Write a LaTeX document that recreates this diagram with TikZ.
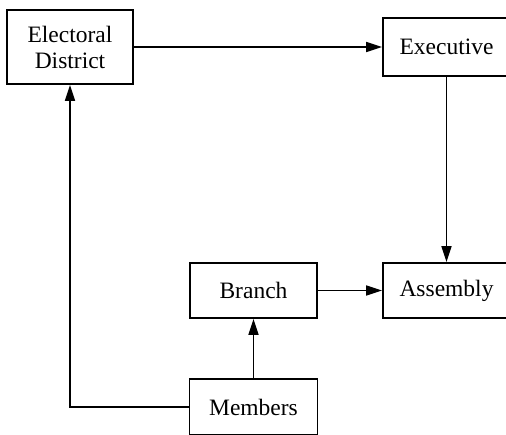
\documentclass[tikz,border=0pt]{standalone}
\usepackage{fontspec}
\setmainfont{Liberation Serif}
\usetikzlibrary{arrows.meta}
\begin{document}
\begin{tikzpicture}[x=1pt,y=1pt,
  box/.style={draw=black,line width=1.8pt,inner sep=0pt,align=center,
    font=\fontsize{23.5}{26}\selectfont,fill=white},
  arr/.style={line width=1.6pt,-{Triangle[length=16pt,width=10pt]}}]
\useasboundingbox (0,0) rectangle (506,434);
\clip (0,0) rectangle (506,434);
\node[box,minimum width=126pt,minimum height=74pt] (ed) at (70,387) {Electoral\\District};
\node[box,minimum width=127pt,minimum height=58pt] (ex) at (446.5,387) {Executive};
\node[box,minimum width=127pt,minimum height=55pt] (br) at (253.5,143.5) {Branch};
\node[box,minimum width=127pt,minimum height=55pt] (as) at (446.5,143.5) {Assembly};
\node[box,minimum width=128pt,minimum height=56pt] (me) at (253.5,27) {Members};
\draw[arr] (ed.east) -- (ed.east -| ex.west);
\draw[arr] (ex.south) -- (as.north);
\draw[arr] (br.east) -- (as.west);
\draw[arr] (me.north) -- (br.south);
\draw[arr] (me.west) -| (ed.south);
\end{tikzpicture}
\end{document}
